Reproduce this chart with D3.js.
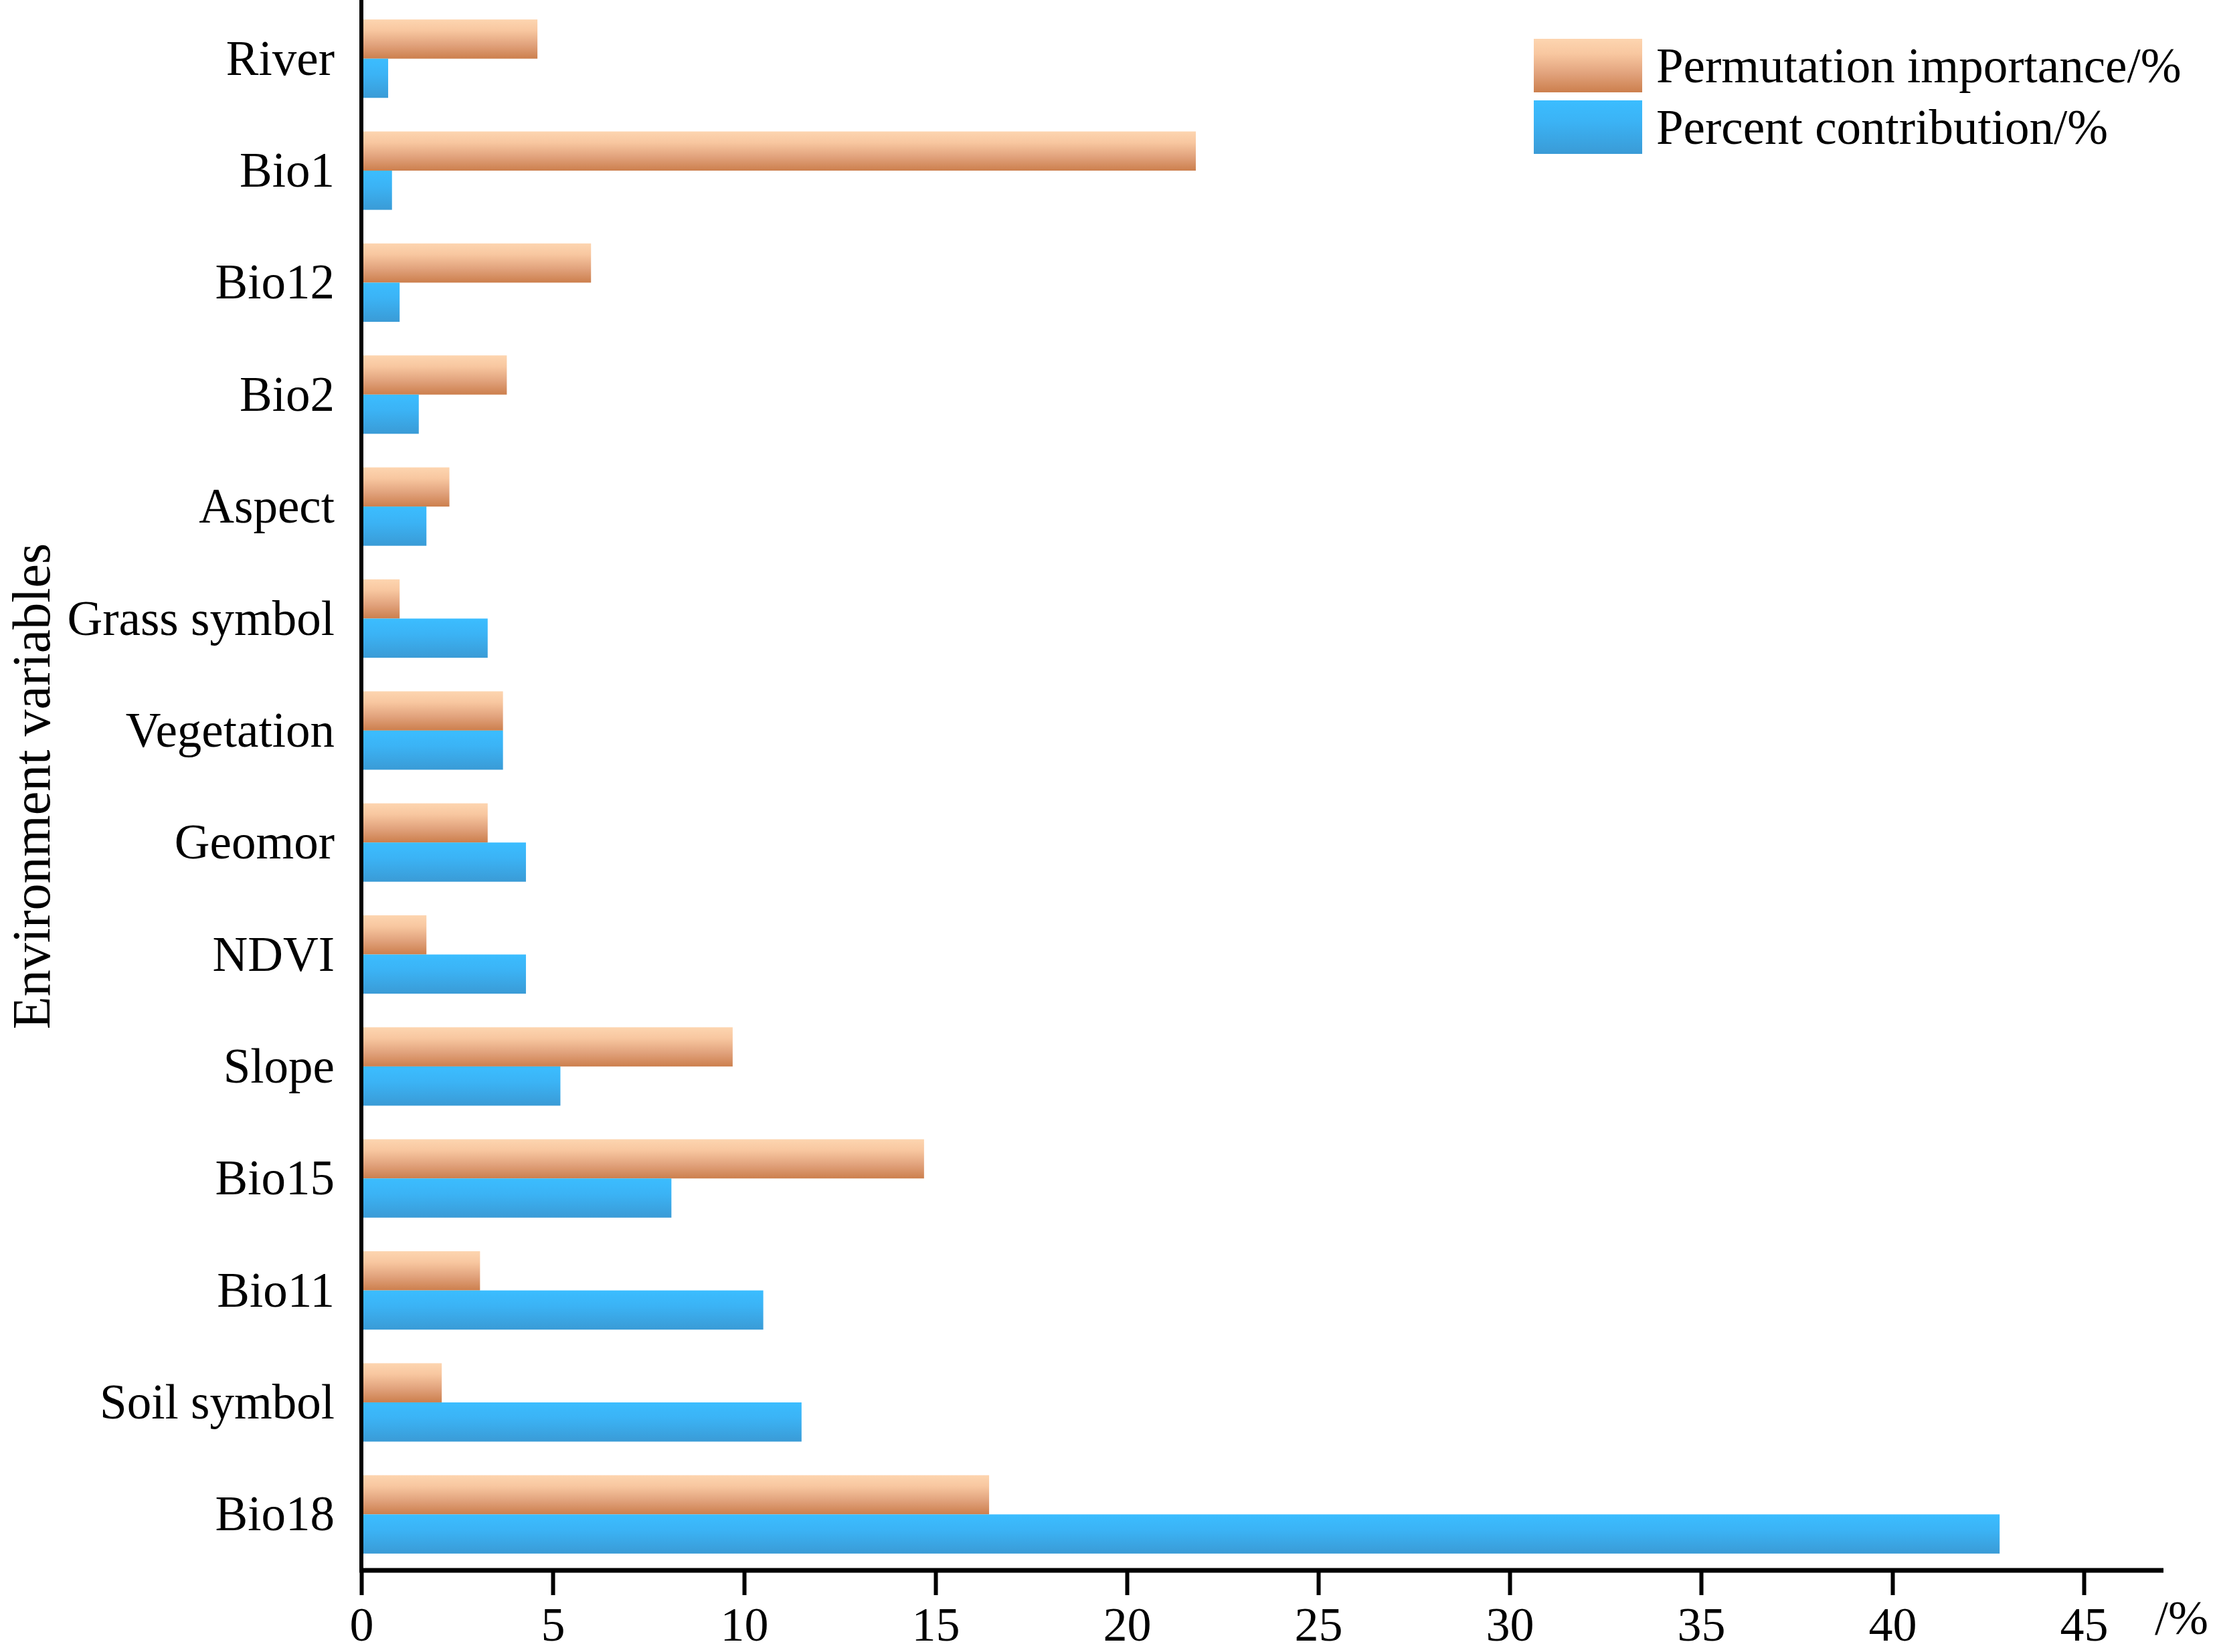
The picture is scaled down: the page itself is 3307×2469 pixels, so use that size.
<!DOCTYPE html>
<html>
<head>
<meta charset="utf-8">
<script src="https://cdn.jsdelivr.net/npm/d3@7"></script>
<style>
  html, body { margin: 0; padding: 0; background: #ffffff; }
  svg { display: block; }
</style>
</head>
<body>
<svg id="chart" width="3307" height="2469"></svg>
<script>
// ---------- data ----------
const categories = ["River", "Bio1", "Bio12", "Bio2", "Aspect", "Grass symbol", "Vegetation",
                    "Geomor", "NDVI", "Slope", "Bio15", "Bio11", "Soil symbol", "Bio18"];
const permutationImportance = [4.6, 21.8, 6.0, 3.8, 2.3, 1.0, 3.7, 3.3, 1.7, 9.7, 14.7, 3.1, 2.1, 16.4];
const percentContribution   = [0.7, 0.8, 1.0, 1.5, 1.7, 3.3, 3.7, 4.3, 4.3, 5.2, 8.1, 10.5, 11.5, 42.8];
const seriesNames = ["Permutation importance/%", "Percent contribution/%"];
const xTickValues = [0, 5, 10, 15, 20, 25, 30, 35, 40, 45];
const xUnitLabel = "/%";
const yAxisTitle = "Environment variables";

// ---------- setup ----------
const svg = d3.select("#chart");
const font = "'Liberation Serif', 'Times New Roman', Times, serif";

const axisX0 = 540, axisY = 2347;
const x = d3.scaleLinear().domain([0, 45]).range([axisX0, 3114]);
const y = d3.scaleBand().domain(categories).range([4, axisY]).paddingInner(0.3).paddingOuter(0.15);
const ySub = d3.scaleBand().domain([0, 1]).range([0, y.bandwidth()]);

// gradients
const defs = svg.append("defs");
const gradSpecs = [
  { id: "gradOrange", stops: [[0, "#fdd5b0"], [0.28, "#f8c7a0"], [0.65, "#e1a27c"], [1, "#cc7f4d"]] },
  { id: "gradBlue",   stops: [[0, "#3bbdff"], [0.4, "#3bb3f5"], [1, "#3a9bd6"]] }
];
gradSpecs.forEach(g => {
  const lg = defs.append("linearGradient").attr("id", g.id)
    .attr("x1", 0).attr("y1", 0).attr("x2", 0).attr("y2", 1);
  g.stops.forEach(s => lg.append("stop").attr("offset", s[0]).attr("stop-color", s[1]));
});
const fills = ["url(#gradOrange)", "url(#gradBlue)"];

// ---------- bars ----------
const rows = categories.map((c, i) => ({ cat: c, vals: [permutationImportance[i], percentContribution[i]] }));
const groups = svg.append("g").selectAll("g").data(rows).join("g")
  .attr("transform", d => `translate(0,${y(d.cat)})`);
groups.selectAll("rect").data(d => d.vals.map((v, k) => ({ v, k }))).join("rect")
  .attr("x", x(0))
  .attr("y", d => ySub(d.k))
  .attr("width", d => x(d.v) - x(0))
  .attr("height", ySub.bandwidth())
  .attr("fill", d => fills[d.k]);

// ---------- x axis ----------
const xAxisG = svg.append("g").attr("transform", `translate(0,${axisY})`)
  .call(d3.axisBottom(x).tickValues(xTickValues).tickSize(37).tickSizeOuter(0).tickFormat(d3.format("d")));
xAxisG.select(".domain").remove();
xAxisG.selectAll(".tick line").attr("stroke", "#000").attr("stroke-width", 6).attr("y1", 2);
xAxisG.selectAll(".tick text")
  .attr("y", 105).attr("dy", 0)
  .attr("fill", "#000")
  .style("font-family", font).style("font-size", "72px");
svg.append("line")
  .attr("x1", axisX0 - 3).attr("x2", x(47.08))
  .attr("y1", axisY).attr("y2", axisY)
  .attr("stroke", "#000").attr("stroke-width", 7);
svg.append("text")
  .attr("x", 3220).attr("y", 2442)
  .style("font-family", font).style("font-size", "72px")
  .text(xUnitLabel);

// ---------- y axis ----------
const yAxisG = svg.append("g").attr("transform", `translate(${axisX0},0)`)
  .call(d3.axisLeft(y).tickSize(0).tickPadding(40));
yAxisG.select(".domain").remove();
yAxisG.selectAll(".tick text")
  .attr("fill", "#000")
  .attr("dy", "0.33em")
  .style("font-family", font).style("font-size", "73px");
svg.append("line")
  .attr("x1", axisX0).attr("x2", axisX0)
  .attr("y1", 0).attr("y2", axisY + 3)
  .attr("stroke", "#000").attr("stroke-width", 6);

svg.append("text")
  .attr("transform", "translate(74,1175) rotate(-90)")
  .attr("text-anchor", "middle")
  .style("font-family", font).style("font-size", "80px")
  .text(yAxisTitle);

// ---------- legend ----------
const legend = svg.append("g");
seriesNames.forEach((name, k) => {
  const ly = 58 + k * 92;
  legend.append("rect").attr("x", 2292).attr("y", ly).attr("width", 162).attr("height", 80).attr("fill", fills[k]);
  legend.append("text").attr("x", 2475).attr("y", ly + 65)
    .style("font-family", font).style("font-size", "73px")
    .text(name);
});
</script>
</body>
</html>
